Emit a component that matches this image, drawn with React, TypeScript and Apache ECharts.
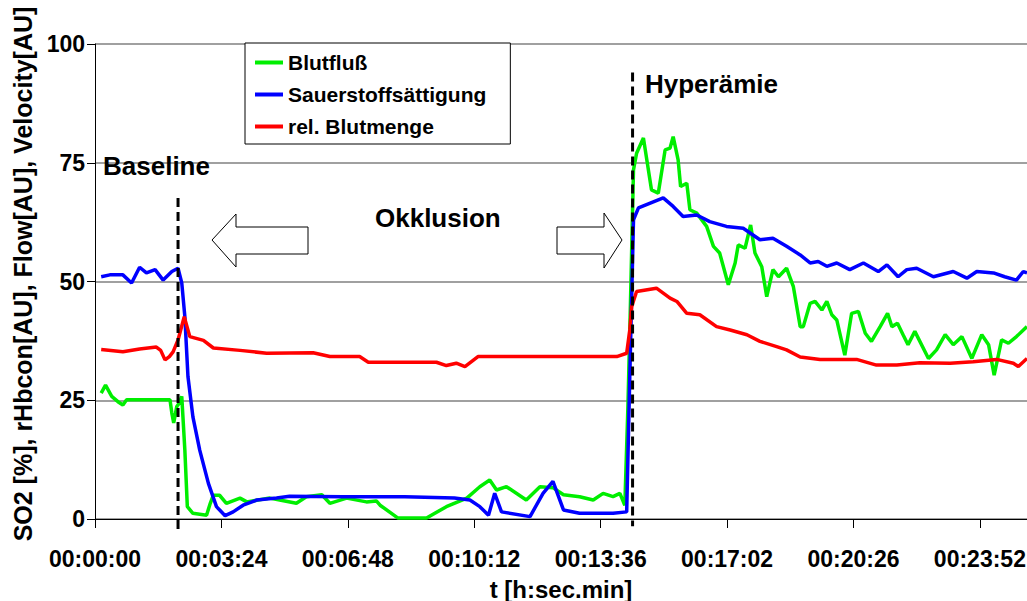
import React, { useEffect, useRef } from "react";
import * as echarts from "echarts";

// time axis (seconds) and value axis
const xTickInterval = 204;
const xMax = 1504;
const xTickLabels = ["00:00:00", "00:03:24", "00:06:48", "00:10:12", "00:13:36", "00:17:02", "00:20:26", "00:23:52"];
const yMin = 0;
const yMax = 100;
const yInterval = 25;

const seriesNames = ["Blutfluß", "Sauerstoffsättigung", "rel. Blutmenge"];
const seriesColors = ["#00ee00", "#0000ff", "#ff0000"];

// Blutfluß (green): [t seconds, value]
const bloodFlow: [number, number][] = [
  [10, 26.5], [17, 28.2], [27, 25.8], [37, 24.7], [45, 24.0], [51, 25.1], [121, 25.1], [124, 22.3],
  [127, 20.2], [132, 23.7], [136, 24.4], [140, 25.8], [145, 14.5], [149, 2.6], [158, 1.2], [180, 0.8],
  [186, 3.3], [191, 5.0], [201, 5.0], [212, 3.3], [234, 4.4], [245, 3.6], [282, 4.4], [298, 4.0],
  [325, 3.3], [341, 4.7], [366, 5.1], [379, 3.3], [406, 4.4], [438, 3.6], [454, 3.8], [460, 2.9],
  [489, 0.2], [535, 0.2], [567, 2.6], [600, 4.4], [621, 6.8], [637, 8.2], [648, 6.1], [664, 6.8],
  [696, 4.0], [718, 6.8], [739, 6.6], [756, 5.1], [782, 4.7], [804, 4.0], [820, 5.4], [836, 4.7],
  [847, 5.4], [855, 2.9], [860, 23.7], [864, 45.0], [869, 73.5], [874, 77.0], [885, 80.2], [898, 69.3],
  [909, 68.6], [920, 77.7], [928, 78.1], [933, 80.5], [941, 75.6], [945, 70.0], [955, 70.7], [960, 65.1],
  [971, 64.4], [987, 61.6], [998, 57.4], [1008, 56.0], [1022, 49.3], [1033, 53.9], [1038, 57.7], [1049, 57.0],
  [1058, 61.9], [1065, 56.0], [1076, 53.1], [1084, 46.8], [1094, 52.5], [1103, 51.0], [1116, 52.8], [1127, 48.9],
  [1138, 40.5], [1143, 40.5], [1154, 45.4], [1162, 45.8], [1173, 44.0], [1181, 45.8], [1189, 43.0], [1197, 41.9],
  [1210, 34.5], [1221, 43.3], [1232, 43.7], [1243, 39.1], [1253, 37.4], [1267, 40.5], [1279, 43.3], [1286, 40.5],
  [1295, 41.2], [1304, 38.8], [1312, 36.7], [1323, 39.5], [1345, 33.8], [1358, 35.6], [1372, 38.8], [1385, 36.7],
  [1399, 38.4], [1415, 33.8], [1431, 38.8], [1442, 36.7], [1451, 30.3], [1463, 37.7], [1474, 37.0], [1487, 38.4],
  [1504, 40.5],
];

// Sauerstoffsättigung (blue)
const oxygenSaturation: [number, number][] = [
  [10, 51.0], [24, 51.4], [45, 51.4], [59, 49.7], [72, 53.0], [83, 51.8], [97, 52.5], [110, 50.3],
  [124, 52.1], [134, 52.8], [140, 49.7], [145, 42.6], [150, 30.0], [158, 21.5], [169, 14.5], [183, 7.5],
  [196, 2.6], [210, 0.7], [223, 1.5], [239, 2.9], [261, 4.0], [293, 4.4], [314, 4.8], [400, 4.7],
  [500, 4.7], [580, 4.4], [605, 4.0], [621, 2.6], [635, 0.8], [645, 5.4], [656, 1.5], [702, 0.5],
  [723, 5.4], [739, 7.9], [756, 1.9], [782, 1.2], [836, 1.2], [858, 1.5], [863, 30.0], [869, 63.0],
  [877, 65.5], [896, 66.5], [917, 67.6], [933, 65.8], [949, 63.7], [971, 64.0], [992, 62.6], [1019, 61.6],
  [1046, 61.2], [1073, 58.8], [1094, 59.1], [1116, 57.4], [1138, 55.6], [1154, 53.9], [1167, 54.2], [1181, 53.2],
  [1197, 53.9], [1218, 52.5], [1240, 53.9], [1264, 52.1], [1278, 53.5], [1296, 51.0], [1310, 52.5], [1326, 52.8],
  [1353, 51.0], [1385, 52.1], [1407, 50.7], [1423, 52.1], [1450, 51.8], [1468, 51.0], [1487, 50.3], [1498, 52.1],
  [1504, 51.8],
];

// rel. Blutmenge (red)
const bloodVolume: [number, number][] = [
  [10, 35.7], [45, 35.2], [72, 35.8], [99, 36.2], [106, 35.5], [113, 33.5], [120, 34.2], [126, 35.2],
  [134, 37.7], [144, 42.6], [153, 38.4], [175, 37.6], [191, 36.0], [234, 35.5], [277, 34.9], [352, 35.0],
  [379, 34.2], [427, 34.2], [441, 33.0], [551, 33.0], [567, 32.3], [583, 32.8], [597, 32.1], [618, 34.2],
  [842, 34.2], [858, 34.9], [863, 39.8], [866, 44.7], [874, 47.9], [906, 48.6], [928, 46.5], [939, 45.8],
  [955, 43.3], [976, 43.0], [1003, 40.5], [1025, 39.8], [1052, 38.8], [1073, 37.4], [1100, 36.3], [1116, 35.6],
  [1138, 34.1], [1170, 33.6], [1229, 33.6], [1261, 32.4], [1294, 32.4], [1331, 32.9], [1380, 32.8], [1417, 33.1],
  [1455, 33.6], [1482, 32.8], [1490, 32.1], [1504, 33.8],
];

// phase markers: [t seconds, top value, bottom value]
const phaseMarkers: [number, number, number][] = [
  [134, 67.6, -2.3],
  [867.5, 94, -1.5],
];

const yAxisTitle = "SO2 [%], rHbcon[AU], Flow[AU], Velocity[AU]";
const xAxisTitle = "t [h:sec.min]";

const FONT = "'Liberation Sans', Arial, Helvetica, sans-serif";

export default function App() {
  const ref = useRef<HTMLDivElement>(null);
  useEffect(() => {
    if (!ref.current) return;
    const chart = echarts.init(ref.current, undefined, { renderer: "svg" });
    const datasets = [bloodFlow, oxygenSaturation, bloodVolume];
    const option: any = {
      animation: false,
      backgroundColor: "#ffffff",
      textStyle: { fontFamily: FONT },
      grid: { left: 95, right: 0, top: 44, bottom: 82, containLabel: false, outerBoundsMode: "none" },
      legend: {
        left: 245,
        top: 43,
        orient: "vertical",
        icon: "rect",
        itemWidth: 28,
        itemHeight: 4,
        itemGap: 11,
        padding: [9, 24, 7, 10],
        backgroundColor: "#ffffff",
        borderColor: "#000000",
        borderWidth: 1,
        borderRadius: 0,
        data: seriesNames,
        textStyle: { fontFamily: FONT, fontWeight: "bold", fontSize: 21, lineHeight: 21, color: "#000" },
      },
      xAxis: {
        type: "value",
        min: 0,
        max: xMax,
        interval: xTickInterval,
        name: xAxisTitle,
        nameLocation: "middle",
        nameGap: 58,
        nameTextStyle: { fontFamily: FONT, fontWeight: "bold", fontSize: 24, color: "#000" },
        axisLine: { show: true, onZero: false, lineStyle: { color: "#000", width: 1 } },
        axisTick: { show: true, inside: false, length: 9, lineStyle: { color: "#000", width: 1 } },
        axisLabel: {
          show: true,
          margin: 28,
          showMaxLabel: false,
          fontFamily: FONT,
          fontWeight: "bold",
          fontSize: 23,
          color: "#000",
          formatter: (v: number) => xTickLabels[Math.round(v / xTickInterval)] ?? "",
        },
        splitLine: { show: false },
      },
      yAxis: {
        type: "value",
        min: yMin,
        max: yMax,
        interval: yInterval,
        axisLine: { show: true, lineStyle: { color: "#000", width: 1 } },
        axisTick: { show: true, inside: false, length: 8, lineStyle: { color: "#000", width: 1 } },
        axisLabel: { margin: 10, fontFamily: FONT, fontWeight: "bold", fontSize: 23, color: "#000" },
        splitLine: { show: true, lineStyle: { color: "#808080", width: 1.5 } },
      },
      series: seriesNames.map((name, i) => ({
        name,
        type: "line",
        data: datasets[i],
        showSymbol: false,
        symbol: "none",
        color: seriesColors[i],
        lineStyle: { color: seriesColors[i], width: 3.5 },
        z: 3 + i,
      })),
    };
    chart.setOption(option);

    const graphics: any[] = [];
    phaseMarkers.forEach(([t, top, bottom]) => {
      const a = chart.convertToPixel({ gridIndex: 0 }, [t, top]) as number[];
      const b = chart.convertToPixel({ gridIndex: 0 }, [t, bottom]) as number[];
      graphics.push({
        type: "line",
        z: 100,
        silent: true,
        shape: { x1: a[0], y1: a[1], x2: b[0], y2: b[1] },
        style: { stroke: "#000", lineWidth: 3, lineDash: [9, 5] },
      });
    });
    const txt = (text: string, x: number, y: number, size: number) => ({
      type: "text",
      z: 100,
      silent: true,
      x,
      y,
      style: {
        text,
        fill: "#000",
        font: `bold ${size}px ${FONT}`,
        textAlign: "left",
        textVerticalAlign: "middle",
        align: "left",
        verticalAlign: "middle",
      },
    });
    graphics.push(txt("Baseline", 103, 166, 26));
    graphics.push(txt("Okklusion", 375, 218, 26));
    graphics.push(txt("Hyperämie", 645, 84, 26));
    graphics.push({
      type: "text",
      z: 100,
      silent: true,
      x: 23,
      y: 274,
      rotation: Math.PI / 2,
      style: {
        text: yAxisTitle,
        fill: "#000",
        font: `bold 25px ${FONT}`,
        textAlign: "center",
        textVerticalAlign: "middle",
        align: "center",
        verticalAlign: "middle",
      },
    });
    // hollow arrows
    graphics.push({
      type: "polygon",
      z: 90,
      silent: true,
      shape: { points: [[212, 240], [236, 214], [236, 227], [308, 227], [308, 254], [236, 254], [236, 267]] },
      style: { fill: "#fff", stroke: "#000", lineWidth: 1 },
    });
    graphics.push({
      type: "polygon",
      z: 90,
      silent: true,
      shape: { points: [[557, 227], [604, 227], [604, 213], [622, 240], [604, 268], [604, 254], [557, 254]] },
      style: { fill: "#fff", stroke: "#000", lineWidth: 1 },
    });
    chart.setOption({ graphic: graphics });

    return () => chart.dispose();
  }, []);
  return (
    <div
      ref={ref}
      style={{ position: "fixed", left: 0, top: 0, width: 1027, height: 601, background: "#fff" }}
    />
  );
}
